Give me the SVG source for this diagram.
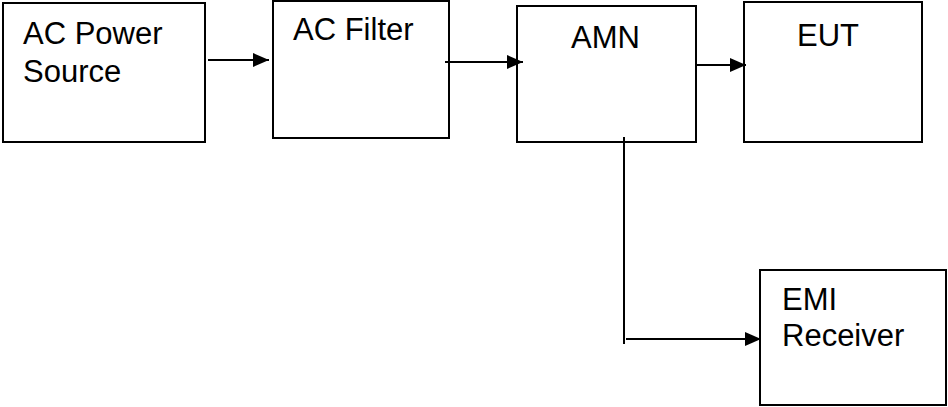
<svg xmlns="http://www.w3.org/2000/svg" width="948" height="407" viewBox="0 0 948 407">
<style>
.box{fill:#fff;stroke:#000;stroke-width:2}
.lbl{font-family:"Liberation Sans",Arial,sans-serif;font-size:31px;fill:#000}
.con{fill:none;stroke:#000;stroke-width:2}
</style>
<defs>
<marker id="ah" viewBox="0 0 16 14" refX="16" refY="7" markerWidth="16" markerHeight="14" markerUnits="userSpaceOnUse" orient="auto">
<path d="M0,0 L16,7 L0,14 Z" fill="#000"/>
</marker>
</defs>
<rect width="948" height="407" fill="#fff"/>
<g id="ac-power-source"><rect class="box" x="3" y="3" width="202" height="139"/><text class="lbl" x="23" y="44">AC Power</text><text class="lbl" x="23" y="82">Source</text></g>
<g id="ac-filter"><rect class="box" x="273" y="1" width="176" height="137"/><text class="lbl" x="293" y="40">AC Filter</text></g>
<g id="amn"><rect class="box" x="517" y="6" width="179" height="136"/><text class="lbl" x="571" y="48">AMN</text></g>
<g id="eut"><rect class="box" x="744" y="2" width="178" height="140"/><text class="lbl" x="797" y="46">EUT</text></g>
<g id="emi-receiver"><rect class="box" x="760" y="270" width="186" height="135"/><text class="lbl" x="782" y="310">EMI</text><text class="lbl" x="782" y="346">Receiver</text></g>
<g id="connectors">
<line class="con" x1="208" y1="60" x2="269" y2="60" marker-end="url(#ah)"/>
<line class="con" x1="445" y1="62" x2="523" y2="62" marker-end="url(#ah)"/>
<line class="con" x1="696" y1="65" x2="746" y2="65" marker-end="url(#ah)"/>
<line class="con" x1="624" y1="137" x2="624" y2="344"/>
<line class="con" x1="626" y1="339" x2="761" y2="339" marker-end="url(#ah)"/>
</g>
</svg>
